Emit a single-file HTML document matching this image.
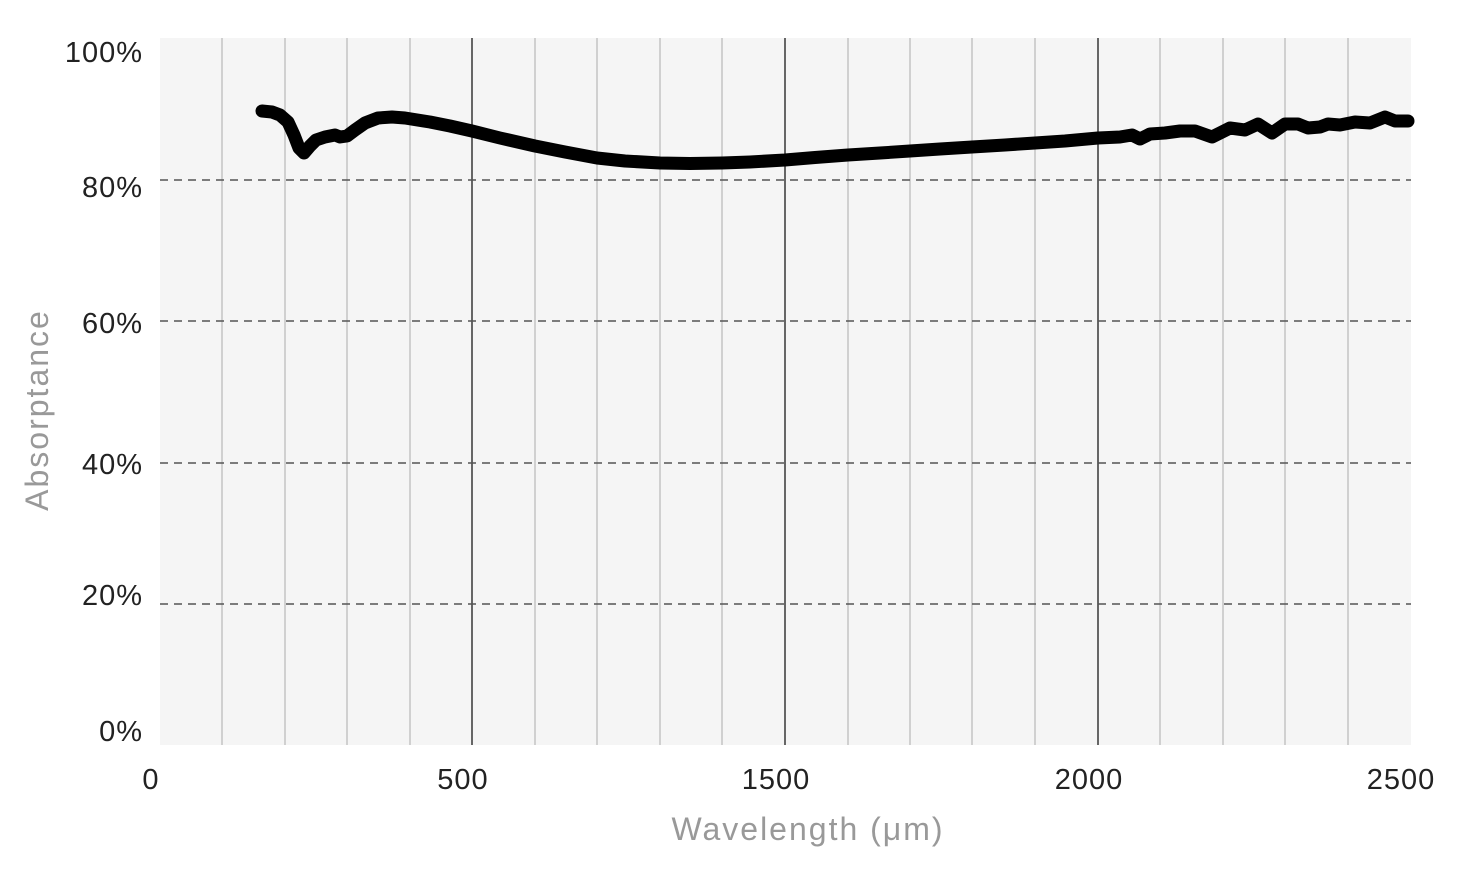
<!DOCTYPE html>
<html><head><style>
html,body{margin:0;padding:0;background:#fff;}
svg{display:block;}
text{font-family:"Liberation Sans",sans-serif;}
</style></head><body>
<svg width="1482" height="876" xmlns="http://www.w3.org/2000/svg">
<rect x="160" y="38" width="1251" height="707" fill="#f5f5f5"/>
<g stroke="#d0d0d0" stroke-width="2">
<line x1="222" y1="38" x2="222" y2="745"/><line x1="285" y1="38" x2="285" y2="745"/><line x1="347" y1="38" x2="347" y2="745"/><line x1="410" y1="38" x2="410" y2="745"/>
<line x1="535" y1="38" x2="535" y2="745"/><line x1="597" y1="38" x2="597" y2="745"/><line x1="660" y1="38" x2="660" y2="745"/><line x1="722" y1="38" x2="722" y2="745"/>
<line x1="848" y1="38" x2="848" y2="745"/><line x1="910" y1="38" x2="910" y2="745"/><line x1="972" y1="38" x2="972" y2="745"/><line x1="1035" y1="38" x2="1035" y2="745"/>
<line x1="1160" y1="38" x2="1160" y2="745"/><line x1="1223" y1="38" x2="1223" y2="745"/><line x1="1285" y1="38" x2="1285" y2="745"/><line x1="1348" y1="38" x2="1348" y2="745"/>
</g>
<g stroke="#666" stroke-width="2">
<line x1="472" y1="38" x2="472" y2="745"/><line x1="785" y1="38" x2="785" y2="745"/><line x1="1098" y1="38" x2="1098" y2="745"/>
</g>
<g stroke="#555" stroke-width="1.5" stroke-dasharray="8,6">
<line x1="160" y1="180" x2="1411" y2="180"/><line x1="160" y1="321" x2="1411" y2="321"/><line x1="160" y1="463" x2="1411" y2="463"/><line x1="160" y1="604" x2="1411" y2="604"/>
</g>
<polyline fill="none" stroke="#000" stroke-width="13" stroke-linecap="round" stroke-linejoin="round" points="262,111 272,112 280,115 288,122 294,135 299,148 304,153 310,146 316,140 325,137 335,135 340,137 347,136 355,130 365,123 378,118 392,117 405,118 430,122 450,126 472,131 500,138 535,146 565,152 597,158 625,161 660,163 690,163.5 722,163 750,162 785,160 815,157.5 848,155 880,153 910,151 940,149 972,147 1005,145 1035,143 1065,141 1098,138 1120,137 1132,135 1140,139 1150,134 1165,133 1180,131 1195,131 1212,137 1230,128 1245,130 1258,124 1272,133 1285,124 1298,124 1308,128 1320,127 1328,124 1340,125 1355,122 1370,123 1385,117 1395,121 1408,121"/>
<g font-size="29" fill="#222" text-anchor="end" letter-spacing="1">
<text x="143" y="62">100%</text><text x="143" y="197">80%</text><text x="143" y="333">60%</text><text x="143" y="474">40%</text><text x="143" y="605">20%</text><text x="143" y="741">0%</text>
</g>
<g font-size="29" fill="#222" text-anchor="middle" letter-spacing="1">
<text x="151" y="789">0</text><text x="463" y="789">500</text><text x="776" y="789">1500</text><text x="1089" y="789">2000</text><text x="1401" y="789">2500</text>
</g>
<text x="808" y="840" font-size="32" fill="#999" text-anchor="middle" letter-spacing="2">Wavelength (μm)</text>
<text transform="translate(48,410) rotate(-90)" font-size="32" fill="#999" text-anchor="middle" letter-spacing="2">Absorptance</text>
</svg>
</body></html>
